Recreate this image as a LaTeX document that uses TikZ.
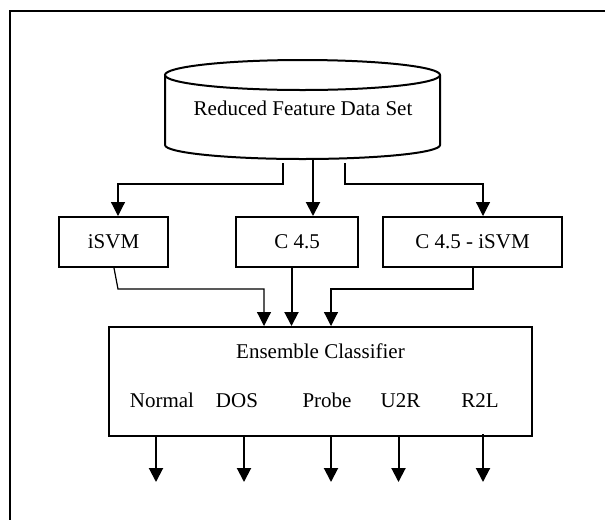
\documentclass[tikz,border=0pt]{standalone}
\usepackage{fontspec}
\setmainfont{Liberation Serif}
\usetikzlibrary{arrows.meta,calc}
\begin{document}
\begin{tikzpicture}[x=1pt,y=-1pt,
  every node/.style={font=\fontsize{21}{25}\selectfont, inner sep=0pt},
  lbl/.style={anchor=base},
  box/.style={draw, line width=2pt, rectangle},
  tip/.style={-{Triangle[width=14pt,length=14pt]}},
  thinline/.style={line width=1.2pt, tip},
  thickline/.style={line width=2pt, tip},
  frame/.style={line width=2.2pt}]
  \useasboundingbox (0,0) rectangle (605,520);

  % open outer frame (top and left sides)
  \draw[frame] (605,11) -- (10,11) -- (10,520);

  % data store drawn as a cylinder
  \draw[line width=2pt] (302.5,75) ellipse [x radius=137.5, y radius=15];
  \draw[line width=2pt] (165,75) -- (165,145)
      arc[start angle=180, end angle=0, x radius=137.5, y radius=14] -- (440,75);
  \node[lbl] (db) at (303,115) {Reduced Feature Data Set};
  \coordinate (dbL) at (283,163);
  \coordinate (dbM) at (313,160);
  \coordinate (dbR) at (345,163);

  % the three classifiers
  \node[box, minimum width=109pt, minimum height=50pt] (isvm) at (113.5,242) {iSVM};
  \node[box, minimum width=122pt, minimum height=50pt] (c45) at (297,242) {C 4.5};
  \node[box, minimum width=179pt, minimum height=50pt] (c45i) at (472.5,242) {C 4.5 - iSVM};

  % ensemble classifier
  \node[box, minimum width=423pt, minimum height=109pt] (ens) at (320.5,381.5) {};
  \node[lbl] (enst) at (320.5,358) {Ensemble Classifier};
  \node[lbl] (lN) at (162,407) {Normal};
  \node[lbl] (lD) at (237,407) {DOS};
  \node[lbl] (lP) at (327,407) {Probe};
  \node[lbl] (lU) at (400.5,407) {U2R};
  \node[lbl] (lR) at (480,407) {R2L};

  % data set to classifiers
  \draw[thinline] (dbL) -- (283,184) -- (118,184) -- ($(isvm.north)+(4.5,0)$);
  \draw[thickline] (dbM) -- ($(c45.north)+(16,0)$);
  \draw[thinline] (dbR) -- (345,184) -- (483,184) -- ($(c45i.north)+(10.5,0)$);

  % classifiers to ensemble
  \draw[thinline] ($(isvm.south)+(0.5,0)$) -- (118,289) -- (264,289) -- ($(ens.north)+(-56.5,0)$);
  \draw[thickline] ($(c45.south)+(-5.5,0)$) -- ($(ens.north)+(-29,0)$);
  \draw[thinline] ($(c45i.south)+(0.5,0)$) -- (473,289) -- (331,289) -- ($(ens.north)+(10.5,0)$);

  % class outputs
  \coordinate (oN) at (156,482);
  \coordinate (oD) at (244,482);
  \coordinate (oP) at (331,482);
  \coordinate (oU) at (398.5,482);
  \coordinate (oR) at (483,482);
  \draw[thickline] (ens.south -| oN) -- (oN);
  \draw[thickline] (ens.south -| oD) -- (oD);
  \draw[thickline] (ens.south -| oP) -- (oP);
  \draw[thickline] (ens.south -| oU) -- (oU);
  \draw[thickline] ($(ens.south -| oR)+(0,-3)$) -- (oR);
\end{tikzpicture}
\end{document}
